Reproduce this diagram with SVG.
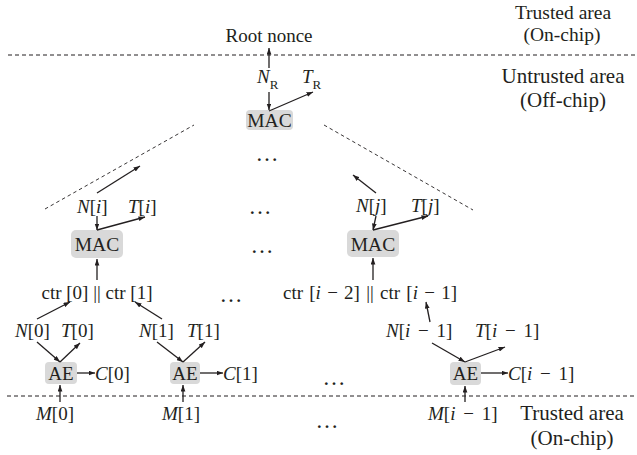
<svg xmlns="http://www.w3.org/2000/svg" width="637" height="455" viewBox="0 0 637 455">
<style>
text{font-family:"Liberation Serif","Times New Roman",serif;font-size:19px;fill:#231f20}
.area{font-size:21px;text-anchor:middle}
.top{font-size:19.5px}
.i{font-style:italic}
.sub{font-size:13px}
.ws{word-spacing:3px}
.box{fill:#d9d9d9;stroke:none}
.mac{font-size:19.5px;text-anchor:middle}
.c{text-anchor:middle}
.arr{stroke:#231f20;stroke-width:1.3;fill:none;marker-end:url(#ah)}
.sep{stroke:#231f20;stroke-width:1;stroke-dasharray:4 3;fill:none}
.diag{stroke:#231f20;stroke-width:0.9;stroke-dasharray:3.5 3;fill:none}
.dots{font-size:23px;text-anchor:middle}
</style>
<defs>
<marker id="ah" markerUnits="userSpaceOnUse" markerWidth="7" markerHeight="5" refX="6.5" refY="2.4" orient="auto">
<path d="M0,0 L6.5,2.4 L0,4.8 z" fill="#231f20"/>
</marker>
</defs>

<g id="regions">
<line class="sep" x1="8" y1="55" x2="637" y2="55"/>
<line class="sep" x1="7" y1="396" x2="637" y2="396"/>
<line class="diag" x1="45" y1="209" x2="194" y2="125"/>
<line class="diag" x1="324" y1="125" x2="473" y2="210"/>
<text class="area top" x="563" y="18.5">Trusted area</text>
<text class="area top" x="562" y="40.5">(On-chip)</text>
<text class="area" x="563" y="83">Untrusted area</text>
<text class="area" x="563" y="107">(Off-chip)</text>
<text class="area" x="572" y="420">Trusted area</text>
<text class="area" x="572" y="445">(On-chip)</text>
</g>

<g id="ellipses">
<text class="dots" x="267" y="161">…</text>
<text class="dots" x="260" y="214">…</text>
<text class="dots" x="262" y="253">…</text>
<text class="dots" x="231" y="302">…</text>
<text class="dots" x="334" y="385">…</text>
<text class="dots" x="327" y="428">…</text>
</g>

<g id="root-nonce"><text class="c" x="269" y="42">Root nonce</text></g>
<g id="label-NR"><text x="257" y="83"><tspan class="i">N</tspan><tspan class="sub" dy="6">R</tspan></text></g>
<g id="label-TR"><text x="302" y="83"><tspan class="i">T</tspan><tspan class="sub" dy="6">R</tspan></text></g>
<g id="mac-root"><rect class="box" x="246" y="110" width="47" height="20" rx="4"/><text class="mac" x="269.5" y="127">MAC</text></g>

<g id="label-Ni"><text x="77" y="213"><tspan class="i">N</tspan>[<tspan class="i">i</tspan>]</text></g>
<g id="label-Ti"><text x="128" y="213"><tspan class="i">T</tspan>[<tspan class="i">i</tspan>]</text></g>
<g id="mac-i"><rect class="box" x="71" y="230" width="52" height="28" rx="5"/><text class="mac" x="97" y="251">MAC</text></g>
<g id="ctr-01"><text class="c" x="97" y="299">ctr [0] || ctr [1]</text></g>

<g id="label-Nj"><text x="356" y="212"><tspan class="i">N</tspan>[<tspan class="i">j</tspan>]</text></g>
<g id="label-Tj"><text x="411" y="212"><tspan class="i">T</tspan>[<tspan class="i">j</tspan>]</text></g>
<g id="mac-j"><rect class="box" x="347" y="230" width="52" height="27" rx="5"/><text class="mac" x="373" y="251">MAC</text></g>
<g id="ctr-last"><text class="c" x="370" y="299" style="word-spacing:1.5px">ctr [<tspan class="i">i</tspan> − 2] || ctr [<tspan class="i">i</tspan> − 1]</text></g>

<g id="label-N0"><text x="15" y="337"><tspan class="i">N</tspan>[0]</text></g>
<g id="label-T0"><text x="61" y="337"><tspan class="i">T</tspan>[0]</text></g>
<g id="ae-0"><rect class="box" x="45" y="362" width="32" height="22" rx="4"/><text class="c" x="61" y="380">AE</text></g>
<g id="label-C0"><text x="95" y="380"><tspan class="i">C</tspan>[0]</text></g>
<g id="label-M0"><text x="36" y="420"><tspan class="i">M</tspan>[0]</text></g>

<g id="label-N1"><text x="139" y="337"><tspan class="i">N</tspan>[1]</text></g>
<g id="label-T1"><text x="187" y="337"><tspan class="i">T</tspan>[1]</text></g>
<g id="ae-1"><rect class="box" x="170" y="362" width="30" height="22" rx="4"/><text class="c" x="185" y="380">AE</text></g>
<g id="label-C1"><text x="223" y="380"><tspan class="i">C</tspan>[1]</text></g>
<g id="label-M1"><text x="162" y="420"><tspan class="i">M</tspan>[1]</text></g>

<g id="label-Nlast"><text class="ws" x="386" y="337"><tspan class="i">N</tspan>[<tspan class="i">i</tspan> − 1]</text></g>
<g id="label-Tlast"><text class="ws" x="475" y="337"><tspan class="i">T</tspan>[<tspan class="i">i</tspan> − 1]</text></g>
<g id="ae-last"><rect class="box" x="450" y="362" width="31" height="23" rx="4"/><text class="c" x="465.5" y="380">AE</text></g>
<g id="label-Clast"><text class="ws" x="508" y="380"><tspan class="i">C</tspan>[<tspan class="i">i</tspan> − 1]</text></g>
<g id="label-Mlast"><text class="ws" x="428" y="420"><tspan class="i">M</tspan>[<tspan class="i">i</tspan> − 1]</text></g>

<g id="connectors">
<line class="arr" x1="269" y1="68" x2="269" y2="48"/>
<line class="arr" x1="269" y1="92" x2="269" y2="110"/>
<line class="arr" x1="269" y1="111" x2="313" y2="92"/>

<line class="arr" x1="97" y1="193" x2="140" y2="166"/>
<line class="arr" x1="97" y1="216" x2="97" y2="230"/>
<line class="arr" x1="97" y1="230" x2="145" y2="217"/>
<line class="arr" x1="97" y1="280" x2="97" y2="259"/>

<line class="arr" x1="376" y1="193" x2="353" y2="175"/>
<line class="arr" x1="376" y1="216" x2="373" y2="230"/>
<line class="arr" x1="373" y1="230" x2="428" y2="216"/>
<line class="arr" x1="373" y1="280" x2="373" y2="258"/>

<line class="arr" x1="37" y1="319" x2="70" y2="302"/>
<line class="arr" x1="37" y1="342" x2="60" y2="362"/>
<line class="arr" x1="60" y1="362" x2="80" y2="343"/>
<line class="arr" x1="77" y1="373" x2="95" y2="373"/>
<line class="arr" x1="60" y1="402" x2="60" y2="385"/>

<line class="arr" x1="162" y1="319" x2="135" y2="302"/>
<line class="arr" x1="157" y1="342" x2="183" y2="362"/>
<line class="arr" x1="183" y1="362" x2="205" y2="342"/>
<line class="arr" x1="200" y1="373" x2="223" y2="373"/>
<line class="arr" x1="183" y1="402" x2="183" y2="385"/>

<line class="arr" x1="430" y1="322" x2="426" y2="302"/>
<line class="arr" x1="432" y1="343" x2="465" y2="362"/>
<line class="arr" x1="465" y1="362" x2="505" y2="347"/>
<line class="arr" x1="481" y1="373" x2="508" y2="373"/>
<line class="arr" x1="465" y1="402" x2="465" y2="386"/>
</g>
</svg>
